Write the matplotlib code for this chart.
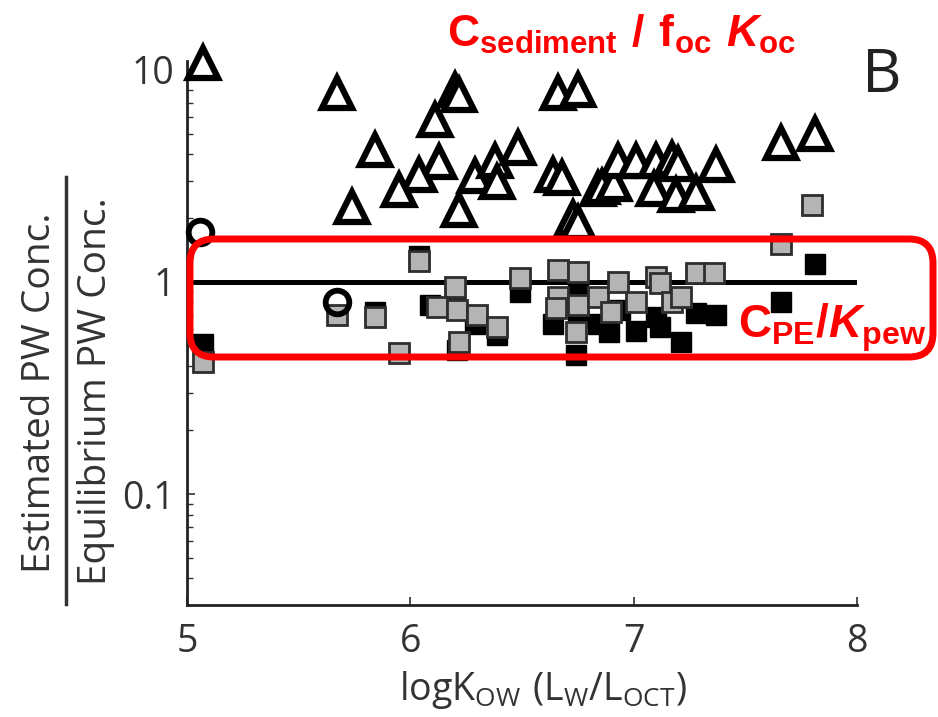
import matplotlib
matplotlib.use('Agg')
import matplotlib.pyplot as plt
from matplotlib.patches import FancyBboxPatch
from matplotlib.ticker import LogLocator, NullFormatter, FixedLocator

plt.rcParams['font.family'] = ['Open Sans', 'DejaVu Sans']
plt.rcParams['mathtext.fontset'] = 'custom'
plt.rcParams['mathtext.rm'] = 'Open Sans'
plt.rcParams['mathtext.bf'] = 'Liberation Sans:bold'
plt.rcParams['mathtext.bfit'] = 'Liberation Sans:bold:italic'
plt.rcParams['mathtext.default'] = 'rm'

# triangles: C_sediment / (f_oc K_oc)
tri_x = [5.07, 5.67, 6.20, 6.22, 6.11, 5.84, 6.13, 6.04, 5.95, 5.74, 6.22, 6.29,
         6.38, 6.39, 6.48, 6.64, 6.68, 6.66, 6.75, 6.73, 6.75, 6.84, 6.86, 6.91,
         6.93, 7.01, 7.10, 7.17, 7.20, 7.37, 7.09, 7.19, 7.28, 7.66, 7.81]
tri_y = [10.8, 7.8, 8.0, 7.6, 5.8, 4.2, 3.66, 3.18, 2.7, 2.25, 2.19, 3.15,
         3.7, 2.95, 4.3, 3.2, 3.1, 7.8, 8.0, 2.0, 1.9, 2.73, 2.8, 2.9,
         3.7, 3.7, 3.7, 3.8, 3.6, 3.55, 2.75, 2.56, 2.62, 4.5, 5.0]

# open circles
circ_x = [5.06, 5.67]
circ_y = [1.72, 0.80]

# black squares
blk_x = [5.07, 6.04, 5.84, 6.20, 6.09, 6.29, 6.39, 6.21, 6.49, 6.75, 6.64, 6.75,
         6.74, 6.84, 6.89, 6.94, 7.01, 7.10, 7.12, 7.21, 7.28, 7.37, 7.81, 7.66]
blk_y = [0.51, 1.33, 0.72, 0.87, 0.78, 0.63, 0.56, 0.48, 0.90, 0.95, 0.63, 0.68,
         0.45, 0.63, 0.58, 0.74, 0.59, 0.68, 0.61, 0.52, 0.71, 0.70, 1.21, 0.80]

# grey squares: C_PE / K_pew
gry_x = [5.07, 6.04, 5.67, 5.84, 5.95, 6.20, 6.12, 6.21, 6.30, 6.39, 6.22, 6.49,
         6.66, 6.75, 6.66, 6.65, 6.75, 6.74, 6.84, 6.93, 6.90, 7.01, 7.10, 7.12,
         7.17, 7.21, 7.28, 7.36, 7.66, 7.80]
gry_y = [0.42, 1.25, 0.70, 0.685, 0.46, 0.95, 0.76, 0.74, 0.70, 0.61, 0.52, 1.04,
         1.14, 1.11, 0.85, 0.75, 0.78, 0.58, 0.85, 1.0, 0.72, 0.80, 1.06, 0.99,
         0.80, 0.85, 1.10, 1.10, 1.51, 2.3]

x_ticks = [5, 6, 7, 8]
y_ticks = [0.1, 1, 10]
y_ticklabels = ['0.1', '1', '10']

fig = plt.figure(figsize=(9.38, 7.17), dpi=100)
ax = fig.add_axes([187 / 938, 112 / 717, 670 / 938, 544 / 717])
ax.set_yscale('log')
ax.set_xlim(5, 8)
ax.set_ylim(0.03, 11)

# 1:1 line
ax.plot([5.03, 8.0], [1, 1], color='black', lw=3.6, solid_capstyle='round', zorder=2)

ax.plot(blk_x, blk_y, 's', ms=14, mfc='black', mec='black', mew=1, zorder=3)
ax.plot(gry_x, gry_y, 's', ms=14, mfc='#b4b4b4', mec='#2e2e2e', mew=2, zorder=4)
ax.plot(tri_x, tri_y, '^', ms=21, mfc='white', mec='black', mew=4.5, zorder=5, clip_on=False)
ax.plot(circ_x, circ_y, 'o', ms=17, mfc='none', mec='black', mew=4.2, zorder=5, clip_on=False)

for s in ['top', 'right']:
    ax.spines[s].set_visible(False)
for s in ['left', 'bottom']:
    ax.spines[s].set_linewidth(2)
    ax.spines[s].set_color('#222222')

ax.xaxis.set_major_locator(FixedLocator(x_ticks))
ax.set_yticks(y_ticks)
ax.set_yticklabels(y_ticklabels)
ax.yaxis.set_minor_locator(LogLocator(base=10, subs=range(2, 10)))
ax.yaxis.set_minor_formatter(NullFormatter())
ax.tick_params(which='major', direction='in', length=6, width=1.2, labelsize=27,
               colors='#333333')
ax.tick_params(axis='x', pad=13)
ax.tick_params(axis='y', pad=9)
ax.tick_params(which='minor', direction='in', length=4, width=1, colors='#333333')

# overlay in pixel units for the annotations
ov = fig.add_axes([0, 0, 1, 1], zorder=10)
ov.set_xlim(0, 938)
ov.set_ylim(717, 0)
ov.axis('off')
ov.patch.set_alpha(0)

ov.text(543, 700, r'$\mathrm{logK_{OW}\ (L_W/L_{OCT})}$', fontsize=27,
        color='#333333', ha='center', va='baseline')

# y label drawn as a fraction
ov.text(40, 393, 'Estimated PW Conc.', rotation=90, ha='center', va='center',
        fontsize=28, color='#333333')
ov.text(96, 391, 'Equilibrium PW Conc.', rotation=90, ha='center', va='center',
        fontsize=28, color='#333333')
ov.plot([66, 66], [177, 604], color='#333333', lw=2.5)

ov.add_patch(FancyBboxPatch((190, 239), 743, 118,
                            boxstyle='round,pad=0,rounding_size=24',
                            ec='red', fc='none', lw=5))

ov.text(447, 47, r'$\mathbf{C_{sediment}\ /\ f_{oc}\ }\mathbfit{K}_{\mathbf{oc}}$',
        color='red', fontsize=32, ha='left', va='baseline')
ov.text(738, 338, r'$\mathbf{C_{PE}/}\mathbfit{K}_{\mathbf{pew}}$',
        color='red', fontsize=33, ha='left', va='baseline')
ov.text(862, 92, 'B', fontsize=44, ha='left', va='baseline', color='#222222')

fig.savefig('out.png', dpi=100)
